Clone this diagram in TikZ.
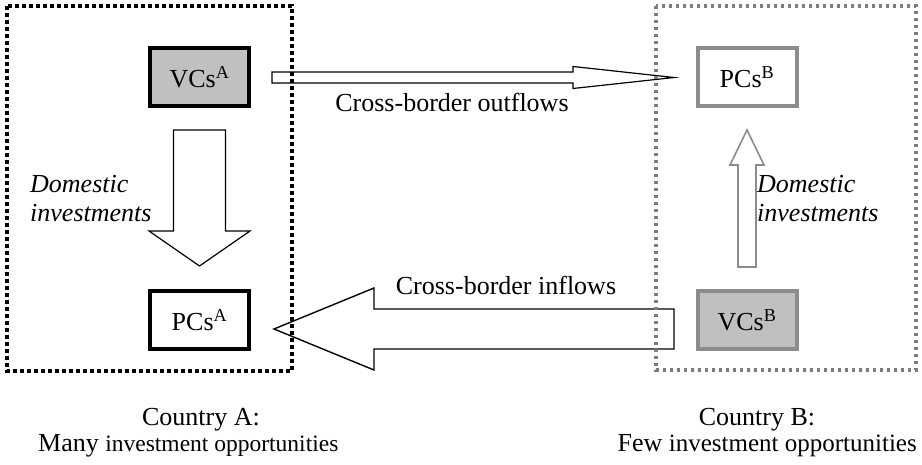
\documentclass[tikz,border=0pt]{standalone}
\usepackage{fontspec}
\setmainfont{Liberation Serif}
\usetikzlibrary{calc}
\definecolor{boxgray}{RGB}{192,192,192}
\definecolor{bgray}{RGB}{140,140,140}
\definecolor{dgray}{RGB}{125,125,125}
\begin{document}
\begin{tikzpicture}[x=1pt,y=-1pt,
  txt/.style={font=\fontsize{26}{30}\selectfont, inner sep=0pt},
  itxt/.style={font=\fontsize{26}{30}\selectfont\itshape, inner sep=0pt, anchor=base west},
  boxbase/.style={line width=4pt, minimum width=99pt, minimum height=58pt, inner sep=0pt,
    font=\fontsize{26}{30}\selectfont},
  vcA/.style={boxbase, draw=black, fill=boxgray},
  pcA/.style={boxbase, draw=black, fill=white},
  vcB/.style={boxbase, draw=bgray, fill=boxgray},
  pcB/.style={boxbase, draw=bgray, fill=white},
  arrA/.style={draw=black, line width=1.2pt, fill=white, line join=miter},
  arrB/.style={draw=bgray, line width=1.6pt, fill=white, line join=miter},
  dotA/.style={draw=black, line width=3.6pt, dash pattern=on 3.8pt off 3.2pt},
  dotB/.style={draw=dgray, line width=3.1pt, dash pattern=on 3.2pt off 3.8pt}
]
\useasboundingbox (0,0) rectangle (922,465);
\fill[white] (0,0) rectangle (922,465);

% boxes
\node[vcA] (vA) at (199.5,77) {VCs\textsuperscript{A}};
\node[pcA] (pA) at (199.5,320.5) {PCs\textsuperscript{A}};
\node[pcB] (pB) at (747,77) {PCs\textsuperscript{B}};
\node[vcB] (vB) at (747,320.5) {VCs\textsuperscript{B}};

% domestic A (down)
\coordinate (dAs) at ($(vA.south)+(0,22)$);
\coordinate (dAe) at ($(pA.north)+(0,-23.5)$);
\draw[arrA] ($(dAs)+(-26,0)$) -- ($(dAs)+(26,0)$) -- ($(dAe)+(26,-35)$) -- ($(dAe)+(50.5,-35)$)
  -- (dAe) -- ($(dAe)+(-50.5,-35)$) -- ($(dAe)+(-26,-35)$) -- cycle;

% domestic B (up)
\coordinate (dBs) at ($(vB.north)+(0,-22.5)$);
\coordinate (dBe) at ($(pB.south)+(0,22)$);
\draw[arrB] ($(dBs)+(-9,0)$) -- ($(dBs)+(9,0)$) -- ($(dBe)+(9,35)$) -- ($(dBe)+(17,35)$)
  -- (dBe) -- ($(dBe)+(-17,35)$) -- ($(dBe)+(-9,35)$) -- cycle;

% outflows
\coordinate (oS) at ($(vA.east)+(21,0.5)$);
\coordinate (oE) at ($(pB.west)+(-21.5,0.5)$);
\draw[arrA] ($(oS)+(0,-5.5)$) -- ($(oE)+(-101,-5.5)$) -- ($(oE)+(-101,-11)$) -- (oE)
  -- ($(oE)+(-101,11)$) -- ($(oE)+(-101,5.5)$) -- ($(oS)+(0,5.5)$) -- cycle;

% inflows
\coordinate (iS) at ($(vB.west)+(-21.5,8.5)$);
\coordinate (iE) at ($(pA.east)+(23,8.5)$);
\draw[arrA, line width=1.4pt] ($(iS)+(0,-20)$) -- ($(iE)+(100,-20)$) -- ($(iE)+(100,-41)$) -- (iE)
  -- ($(iE)+(100,41)$) -- ($(iE)+(100,20)$) -- ($(iS)+(0,20)$) -- cycle;

% country borders
\draw[dotA] (7,6) rectangle (292,371);
\draw[dotB] (656,6) rectangle (916,370);

% labels
\node[itxt] (dA1) at (30,193) {Domestic};
\node[itxt] (dA2) at (30,222) {investments};
\node[itxt] (dB1) at (757,193) {Domestic};
\node[itxt] (dB2) at (757,222) {investments};
\node[txt, anchor=base] (lo) at (452,112) {Cross-border outflows};
\node[txt, anchor=base] (li) at (506,295) {Cross-border inflows};
\node[txt, anchor=base] (cA) at (201,425) {Country A:};
\node[txt, anchor=base west] (mA) at (38,451) {Many {\fontsize{23.5}{28}\selectfont investment opportunities}};
\node[txt, anchor=base] (cB) at (757,425) {Country B:};
\node[txt, anchor=base east] (mB) at (917,451) {Few {\fontsize{25}{28}\selectfont investment opportunities}};
\end{tikzpicture}
\end{document}
